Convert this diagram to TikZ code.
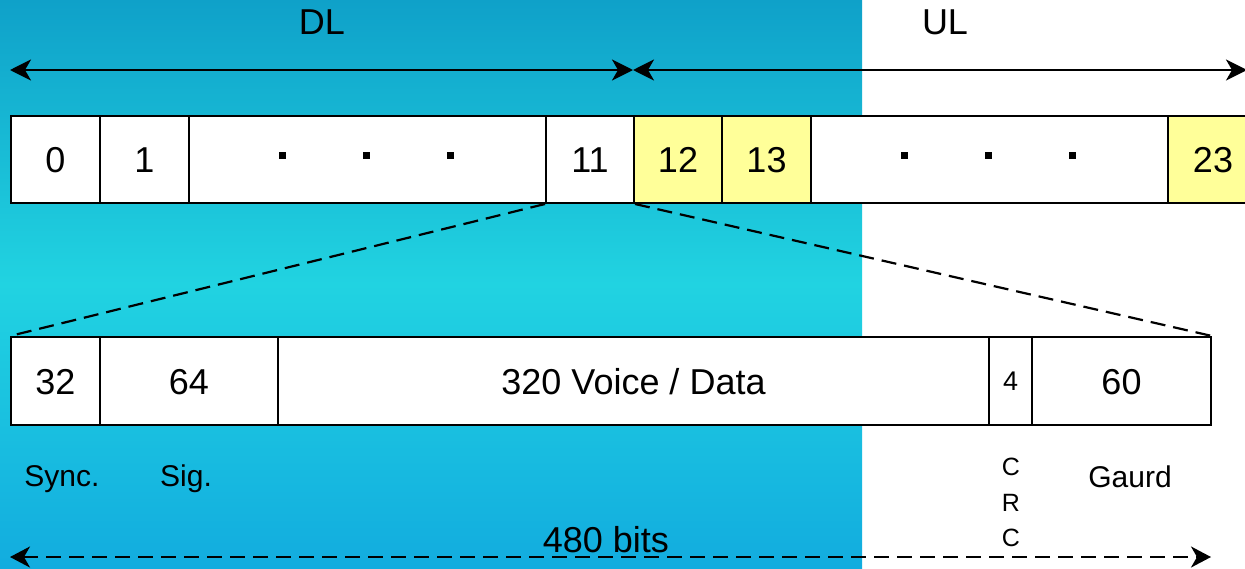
\documentclass[tikz,border=0pt]{standalone}
\usepackage{fontspec}
\setmainfont{Liberation Sans}
\usetikzlibrary{arrows.meta}
\definecolor{bgtop}{HTML}{0FA1C9}
\definecolor{bgmid}{HTML}{21D3E1}
\definecolor{bgbot}{HTML}{12ACDF}
\definecolor{slotyellow}{HTML}{FFFF99}
\tikzset{
  cell/.style={draw=black, line width=2pt, fill=white, anchor=north west, inner sep=0pt,
    minimum height=87pt, text height=26pt, text depth=0pt, font=\fontsize{36}{40}\selectfont},
  ycell/.style={cell, fill=slotyellow},
  lbl/.style={inner sep=0pt, font=\fontsize{30}{34}\selectfont},
  big/.style={inner sep=0pt, font=\fontsize{36}{40}\selectfont},
  tip/.style={},
  dimarrow/.style={line width=2.6pt, {Stealth[length=21pt,width=21pt,inset=6pt]}-{Stealth[length=21pt,width=21pt,inset=6pt]}},
  zoomline/.style={line width=2.2pt, dash pattern=on 15pt off 8pt},
  dotsq/.style={fill=black, draw=none}
}
\begin{document}
\begin{tikzpicture}[x=1pt,y=-1pt]
\useasboundingbox (0,0) rectangle (1245,568);
\clip (0,0) rectangle (1245,568);
% background
\fill[white] (0,0) rectangle (1245,568);
\shade[top color=bgtop, bottom color=bgbot, middle color=bgmid] (0,0) rectangle (862,568);

% headings
\node[big] (dl) at (322,22) {DL};
\node[big] (ul) at (945,22) {UL};
\coordinate (dlL) at (10,70);
\coordinate (mid) at (633,70);
\coordinate (ulR) at (1247,70);
\draw[dimarrow] (dlL) -- (mid);
\draw[dimarrow] (mid) -- (ulR);

% top row
\node[cell, minimum width=89pt] (c0) at (10,115) {0};
\node[cell, minimum width=89pt] (c1) at (99,115) {1};
\node[cell, minimum width=357pt] (cd1) at (188,115) {};
\node[cell, minimum width=88pt] (c11) at (545,115) {11};
\node[ycell, minimum width=88pt] (c12) at (633,115) {12};
\node[ycell, minimum width=89pt] (c13) at (721,115) {13};
\node[cell, minimum width=357pt] (cd2) at (810,115) {};
\node[ycell, minimum width=90pt] (c23) at (1167,115) {23};
\foreach \x in {282,366,450,904,988,1072}
  \fill[dotsq] (\x-3.5,151.5) rectangle (\x+3.5,158.5);

% bottom row
\node[cell, minimum width=89pt, minimum height=88pt] (b32) at (10,336) {32};
\node[cell, minimum width=178pt, minimum height=88pt] (b64) at (99,336) {64};
\node[cell, minimum width=711pt, minimum height=88pt] (b320) at (277,336) {320 Voice / Data};
\node[cell, minimum width=43pt, minimum height=88pt, text height=19pt, font=\fontsize{27}{30}\selectfont] (b4) at (988,336) {4};
\node[cell, minimum width=179pt, minimum height=88pt] (b60) at (1031,336) {60};

% zoom lines
\draw[zoomline] (c11.south west) -- (b32.north west);
\draw[zoomline] (c11.south east) -- (b60.north east);

% labels
\node[lbl] (sync) at (62,479) {Sync.};
\node[lbl] (sig) at (186,479) {Sig.};
\node[lbl] (gaurd) at (1130,477) {Gaurd};
\node[inner sep=0pt, font=\fontsize{25}{28}\selectfont] (crc1) at (1011,467) {C};
\node[inner sep=0pt, font=\fontsize{25}{28}\selectfont] (crc2) at (1011,503) {R};
\node[inner sep=0pt, font=\fontsize{25}{28}\selectfont] (crc3) at (1011,538) {C};

% total length
\node[big] (bits) at (606,540) {480 bits};
\coordinate (tl) at (10,557);
\coordinate (tr) at (1211,557);
\draw[line width=2.2pt, dash pattern=on 15pt off 8pt, {Stealth[length=20pt,width=21pt,inset=6pt]}-{Stealth[length=20pt,width=21pt,inset=6pt]}] (tl) -- (tr);
\end{tikzpicture}
\end{document}
